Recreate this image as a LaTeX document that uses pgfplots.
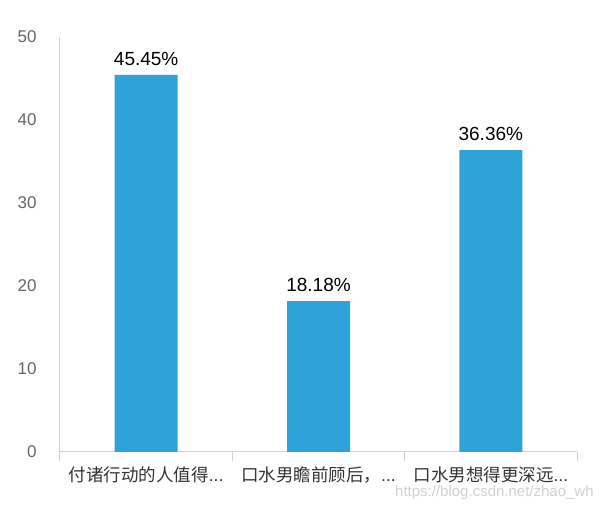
\documentclass[border=0pt]{standalone}
\usepackage{pgfplots}
\pgfplotsset{compat=1.18}
\usepackage{fontspec}
\setmainfont{Liberation Sans}
\newfontfamily\cjk{Noto Sans CJK SC}
\definecolor{barblue}{HTML}{30A2DA}
\definecolor{axisline}{HTML}{C5D4E2}
\definecolor{ticktext}{HTML}{666666}
\newcommand\dotsend{...}
\begin{document}
\begin{tikzpicture}[x=1pt,y=1pt]
\useasboundingbox (-60,-56) rectangle (539,452);
\begin{axis}[
    at={(0,0)}, anchor=south west,
    scale only axis,
    width=517pt, height=415pt,
    ymin=0, ymax=50,
    xmin=-0.5, xmax=2.5,
    axis x line*=bottom,
    axis y line*=left,
    axis line style={axisline, line width=1pt},
    ytick={0,10,...,50},
    xtick={0,1,2},
    xticklabels={{\cjk 付诸行动的人值得}\dotsend,{\cjk 口水男瞻前顾后，}\dotsend,{\cjk 口水男想得更深远}\dotsend},
    minor xtick={-0.5,0.5,1.5,2.5},
    major tick length=0pt,
    minor tick length=9pt,
    tick align=outside,
    minor tick style={axisline, line width=1pt},
    yticklabel style={font=\fontsize{17}{17}\selectfont, text=ticktext, xshift=-20pt},
    xticklabel style={font=\fontsize{17.5}{17.5}\selectfont, text=black!80, yshift=-11pt},
    /pgf/number format/assume math mode=true,
    ybar, bar width=63pt,
    nodes near coords={\pgfmathprintnumber[fixed,fixed zerofill,precision=2]{\pgfplotspointmeta}\%},
    nodes near coords style={font=\fontsize{19}{19}\selectfont, text=black, yshift=6pt},
    clip=false,
]
\addplot[fill=barblue, draw=none] coordinates {(0,45.45) (1,18.18) (2,36.36)};
\end{axis}
\node[anchor=base west, text=black!18, font=\fontsize{15}{15}\selectfont, inner sep=0] at (335,-45) {https://blog.csdn.net/zhao\_wh};
\end{tikzpicture}
\end{document}
